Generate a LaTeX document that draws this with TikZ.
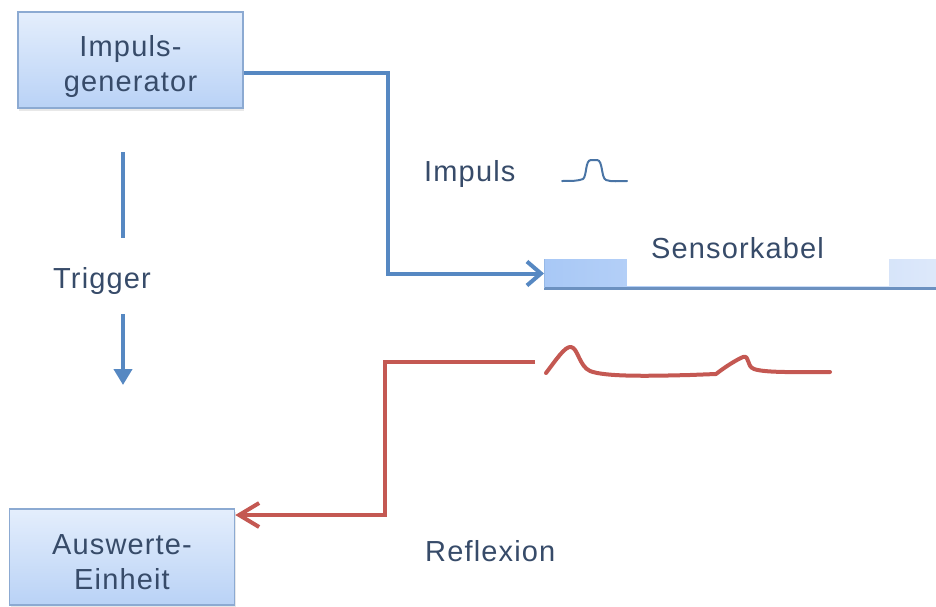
\documentclass[tikz,border=0pt]{standalone}
\usepackage{fontspec}
\setmainfont{Liberation Sans}[LetterSpace=4]
\usetikzlibrary{arrows.meta,shadows}
\definecolor{txt}{RGB}{55,75,105}
\definecolor{bl}{RGB}{86,136,194}
\definecolor{rd}{RGB}{196,88,82}
\definecolor{boxtop}{RGB}{228,238,252}
\definecolor{boxbot}{RGB}{185,210,246}
\definecolor{boxdraw}{RGB}{140,170,210}
\definecolor{cableL}{RGB}{168,200,246}
\definecolor{cableR}{RGB}{222,233,250}
\definecolor{cableline}{RGB}{108,145,192}
\begin{document}
\begin{tikzpicture}[x=1pt,y=-1pt,
  box/.style={draw=boxdraw,line width=1.5pt,top color=boxtop,bottom color=boxbot,
    minimum width=225pt,minimum height=96pt,inner sep=0pt,
    drop shadow={opacity=0.18,shadow xshift=1pt,shadow yshift=-3pt}},
  lbl/.style={text=txt,font=\fontsize{29}{35}\selectfont,align=center,inner sep=0pt},
  blline/.style={draw=bl,line width=4pt,line join=miter},
  rdline/.style={draw=rd,line width=4pt,line join=miter},
  wave/.style={draw=rd,line width=4pt,line cap=round,line join=round},
  chev/.style={-{Straight Barb[length=14pt,width=24pt]}}]
\useasboundingbox (0,0) rectangle (936,607);

% boxes
\node[box] (gen) at (130.5,60) {};
\node[lbl] (gentext) at (130.5,67) {Impuls-\\generator};
\node[box] (ausw) at (122,557) {};
\node[lbl] (auswtext) at (122,562) {Auswerte-\\Einheit};

% cable
\node[anchor=west,left color=cableL,right color=cableR,draw=none,
      minimum width=400pt,minimum height=29pt,inner sep=0pt] (cable) at (544,273.5) {};
\node[fill=white,minimum width=262pt,minimum height=28pt,inner sep=0pt] (cablegap) at (758,272) {};
\draw[cableline,line width=3pt] (cable.south west) -- (cable.south east);
\draw[cableL!70!cableline,line width=1pt] (cable.south west) -- (cable.north west);
\node[lbl] (sktext) at (737.5,248) {Sensorkabel};

% labels
\node[lbl,anchor=base west] (impuls) at (424,181) {Impuls};
\node[lbl,anchor=base west] (trigger) at (53,288) {Trigger};
\node[lbl,anchor=base west] (reflexion) at (425,561) {Reflexion};

% pulse symbol
\draw[draw=bl!85!black,line width=2pt,line cap=round,line join=round]
  (562,181) .. controls (572,181) and (578,181) .. (583,179)
  .. controls (587,176) and (585,160) .. (591,160) -- (597,160)
  .. controls (603,160) and (601,178) .. (606,180)
  .. controls (611,182) and (620,181) .. (627,181);

% blue connector
\coordinate (bc) at (388,0);
\draw[blline,chev] ([yshift=-13pt]gen.east) -| (bc |- cable.west) -- (cable.west);

% trigger
\coordinate (t1) at (123,152);
\coordinate (t2) at (123,238);
\coordinate (t3) at (123,314);
\coordinate (t4) at (123,385);
\draw[blline] (t1) -- (t2);
\draw[blline,-{Triangle[length=16pt,width=18pt]}] (t3) -- (t4);

% red connector
\coordinate (rs) at (535,362);
\coordinate (rc) at (385,515);
\draw[rdline,-{Straight Barb[length=20pt,width=24pt]}] (rs) -| (rc) -- ([yshift=42pt]ausw.east);

% reflection wave
\draw[wave] (546,373) .. controls (556,360) and (565,346) .. (571,347)
  .. controls (578,348) and (579,366) .. (590,371)
  .. controls (605,377) and (650,376) .. (690,375) -- (716,374)
  .. controls (725,367) and (736,360) .. (743,357)
  .. controls (750,355) and (746,366) .. (754,369)
  .. controls (765,373) and (800,372) .. (830,372);
\end{tikzpicture}
\end{document}
